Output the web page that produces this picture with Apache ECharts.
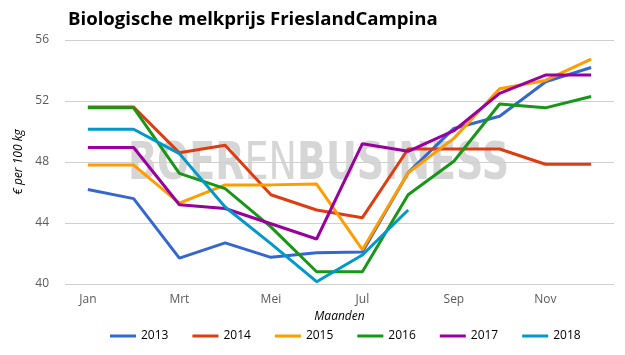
<!DOCTYPE html>
<html>
<head>
<meta charset="utf-8">
<script src="https://cdn.jsdelivr.net/npm/echarts@6/dist/echarts.min.js"></script>
<style>
	html,body{margin:0;padding:0;background:#fff;}
	#melkprijsChart{width:625px;height:355px;}
</style>
</head>
<body>
<div id="melkprijsChart"></div>
<script>
	// maanden (x-as)
	const maanden = ['Jan','Feb','Mrt','Apr','Mei','Jun','Jul','Aug','Sep','Okt','Nov','Dec'];
	const jaren = ['2013','2014','2015','2016','2017','2018'];
	// prijzen per jaar, € per 100 kg
	const prijs2013 = [46.2,45.6,41.7,42.7,41.75,42.05,42.1,47.3,50.2,51.0,53.25,54.2];
	const prijs2014 = [51.6,51.6,48.6,49.1,45.85,44.85,44.35,48.85,48.85,48.85,47.85,47.85];
	const prijs2015 = [47.8,47.8,45.3,46.5,46.5,46.55,42.25,47.3,49.55,52.8,53.35,54.75];
	const prijs2016 = [51.55,51.55,47.25,46.25,43.75,40.8,40.8,45.85,48.05,51.8,51.55,52.3];
	const prijs2017 = [48.95,48.95,45.2,44.95,43.95,42.95,49.2,48.7,50.05,52.5,53.7,53.7];
	const prijs2018 = [50.15,50.15,48.55,45.05,42.65,40.15,41.9,44.85];
	const yTicks = [40,44,48,52,56];
	const kleuren = ['#3567d0','#e03c12','#ff9c00','#179617','#99009e','#0099c9'];

	const reeksen = [prijs2013,prijs2014,prijs2015,prijs2016,prijs2017,prijs2018];
	const labelKleur = '#595959';
	const font = 'Open Sans';

	const chart = echarts.init(document.getElementById('melkprijsChart'));
	const option = {
		backgroundColor: '#fff',
		animation: false,
		title: {
			text: 'Biologische melkprijs FrieslandCampina',
			left: 63,
			top: 5,
			textStyle: {fontFamily: font, fontSize: 18.6, fontWeight: 'bold', color: '#000'}
		},
		// watermerk
		graphic: [{
			type: 'text',
			left: 128,
			top: 140,
			z: 0,
			scaleY: 1.35,
			style: {
				text: '{b|BOER}{l|EN}{b|BUSINESS}',
				rich: {
					b: {fontFamily: 'DejaVu Sans', fontSize: 38, fontWeight: 'bold', fill: '#d6d6d6'},
					l: {fontFamily: 'DejaVu Sans', fontSize: 38, fontWeight: 'normal', fill: '#d6d6d6'}
				}
			}
		}],
		grid: {left: 65, right: 11, top: 40, bottom: 71},
		legend: {
			bottom: 8,
			left: 105,
			itemWidth: 26,
			itemHeight: 3,
			itemGap: 24,
			icon: 'rect',
			textStyle: {fontFamily: font, fontSize: 12, color: '#000'},
			data: jaren
		},
		xAxis: {
			type: 'category',
			data: maanden,
			boundaryGap: true,
			name: 'Maanden',
			nameLocation: 'middle',
			nameGap: 27,
			nameTextStyle: {fontFamily: font, fontSize: 12, fontStyle: 'italic', color: '#000'},
			axisLine: {show: false},
			axisTick: {show: false},
			axisLabel: {interval: 1, fontFamily: font, fontSize: 12, color: labelKleur, margin: 10}
		},
		yAxis: {
			type: 'value',
			min: yTicks[0],
			max: yTicks[yTicks.length-1],
			interval: 4,
			name: '€ per 100 kg',
			nameLocation: 'middle',
			nameGap: 34,
			nameTextStyle: {fontFamily: font, fontSize: 12, fontStyle: 'italic', color: '#000'},
			axisLine: {show: false},
			axisTick: {show: false},
			splitLine: {lineStyle: {color: '#cfcfcf', width: 1}},
			axisLabel: {fontFamily: font, fontSize: 12, color: labelKleur, margin: 16}
		},
		series: jaren.map((jaar, i) => ({
			name: jaar,
			type: 'line',
			data: reeksen[i],
			symbol: 'none',
			z: 3,
			color: kleuren[i],
			lineStyle: {width: 3, color: kleuren[i]}
		}))
	};
	chart.setOption(option);
</script>
</body>
</html>
